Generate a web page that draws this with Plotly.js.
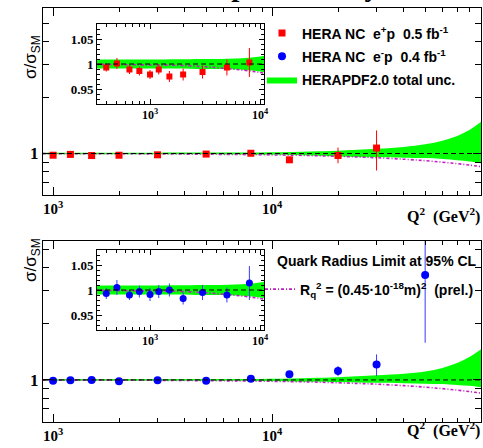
<!DOCTYPE html>
<html>
<head>
<meta charset="utf-8">
<script src="https://cdn.plot.ly/plotly-3.0.1.min.js"></script>
<style>html,body{margin:0;padding:0;background:#fff}#chart{width:483px;height:448px}</style>
</head>
<body>
<div id="chart"></div>
<script>
// ---- data ----
// e+p NC cross section ratio to SM
var q2Pos      = [400, 500, 650, 800, 1000, 1200, 1500, 2000, 3000, 5000, 8000, 12000, 20000, 30000];
var ratioPos   = [0.993, 1.001, 0.989, 0.986, 0.979, 0.989, 0.975, 0.979, 0.984, 0.993, 1.003, 0.925, 0.976, 1.07];
var errPosUp   = [0.008, 0.011, 0.009, 0.009, 0.009, 0.010, 0.011, 0.012, 0.013, 0.016, 0.029, 0.035, 0.10, 0.26];
var errPosDn   = [0.008, 0.011, 0.009, 0.009, 0.009, 0.010, 0.011, 0.012, 0.013, 0.016, 0.029, 0.035, 0.09, 0.26];
// e-p NC cross section ratio to SM
var q2Neg      = [400, 500, 650, 800, 1000, 1200, 1500, 2000, 3000, 5000, 8000, 12000, 20000, 30000, 50000];
var ratioNeg   = [0.993, 1.005, 0.990, 0.997, 0.991, 0.997, 1.000, 0.983, 0.995, 0.990, 1.014, 1.072, 1.117, 1.21, 3.64];
var errNegUp   = [0.011, 0.015, 0.010, 0.012, 0.013, 0.013, 0.013, 0.012, 0.015, 0.015, 0.034, 0.04, 0.07, 0.16, 3.0];
var errNegDn   = [0.011, 0.015, 0.010, 0.012, 0.013, 0.013, 0.013, 0.012, 0.015, 0.015, 0.034, 0.04, 0.07, 0.16, 2.06];
// HERAPDF2.0 total uncertainty band
var bandQ2     = [300, 1000, 3000, 6000, 10000, 15000, 20000, 30000, 40000, 50000, 60000, 70000, 80000, 90000];
var bandPosUp  = [1.009, 1.009, 1.010, 1.011, 1.015, 1.025, 1.035, 1.06, 1.085, 1.12, 1.17, 1.24, 1.34, 1.48];
var bandPosLo  = [0.991, 0.991, 0.990, 0.989, 0.985, 0.975, 0.965, 0.955, 0.950, 0.945, 0.935, 0.92, 0.905, 0.885];
var bandNegUp  = [1.009, 1.009, 1.010, 1.011, 1.015, 1.025, 1.035, 1.06, 1.08, 1.11, 1.16, 1.23, 1.33, 1.46];
var bandNegLo  = [0.991, 0.991, 0.990, 0.989, 0.985, 0.978, 0.972, 0.965, 0.960, 0.955, 0.950, 0.940, 0.930, 0.915];
// quark radius limit curve
var rqQ2       = [300, 1000, 2000, 5000, 10000, 15000, 20000, 25000, 30000, 40000, 50000, 60000, 70000, 80000, 90000];
var rqRatio    = [0.9995, 0.998, 0.997, 0.991, 0.983, 0.975, 0.966, 0.957, 0.949, 0.932, 0.915, 0.898, 0.882, 0.866, 0.85];
var smLevel    = 1;
// tick labels and texts
var mainXTicks = [1000, 10000];
var mainXText  = ['10<sup>3</sup>', '10<sup>4</sup>'];
var mainXMinor = [2000,3000,4000,5000,6000,7000,8000,9000,20000,30000,40000,50000,60000,70000,80000,90000];
var insetXMinor= [400,500,600,700,800,900,2000,3000,4000,5000,6000,7000,8000,9000];
var mainYTicks = [1];
var mainYText  = ['1'];
var mainYMinor = [0.6,0.7,0.8,0.9,2,3,4,5,6];
var namePos  = 'HERA NC\u00a0\u00a0e<sup>+</sup>p\u00a0\u00a00.5 fb<sup>-1</sup>';
var nameNeg  = 'HERA NC\u00a0\u00a0e<sup>-</sup>p\u00a0\u00a00.4 fb<sup>-1</sup>';
var nameBand = 'HERAPDF2.0 total unc.';
var nameRq   = 'R<sub>q</sub><sup>2</sup> = (0.45\u00b710<sup>-18</sup>m)<sup>2</sup>\u00a0\u00a0(prel.)';
var rqTitle  = 'Quark Radius Limit at 95% CL';
var yTitle   = '\u03c3/\u03c3<sub>SM</sub>';
var xTitle   = 'Q<sup>2</sup>\u00a0\u00a0(GeV<sup>2</sup>)';
var topTitle = 'H1 preliminary';

var GREEN = '#00ff00', RED = '#ff0000', BLUE = '#0000ff', MAG = '#c020c0';
var W = 483, H = 448;
function px(x){return x/W;}
function py(y){return 1 - y/H;}

var data = [];
function band(xa, ya, up, lo, show){
  data.push({x: bandQ2, y: lo, xaxis: xa, yaxis: ya, type: 'scatter', mode: 'lines',
    line: {width: 0, color: GREEN, shape: 'spline'}, showlegend: false, hoverinfo: 'skip'});
  data.push({x: bandQ2, y: up, xaxis: xa, yaxis: ya, type: 'scatter', mode: 'lines',
    line: {width: 0, color: GREEN, shape: 'spline'}, fill: 'tonexty', fillcolor: GREEN,
    name: nameBand, showlegend: show, legend: 'legend', legendgroup: 'g3', legendrank: 3});
}
band('x', 'y', bandPosUp, bandPosLo, true);
band('x2', 'y2', bandPosUp, bandPosLo, false);
band('x3', 'y3', bandNegUp, bandNegLo, false);
band('x4', 'y4', bandNegUp, bandNegLo, false);

function rq(xa, ya, show){
  data.push({x: rqQ2, y: rqRatio, xaxis: xa, yaxis: ya, type: 'scatter', mode: 'lines',
    line: {color: MAG, width: 1.6, dash: '3px,2px,1px,2px', shape: 'spline'},
    name: nameRq, showlegend: show, legend: 'legend2'});
}
rq('x', 'y', false);
rq('x2', 'y2', false);
rq('x3', 'y3', true);
rq('x4', 'y4', false);

function pts(xa, ya, q, r, eu, ed, sym, sz, col, ecol, nm, show, rank){
  data.push({x: q, y: r, xaxis: xa, yaxis: ya, type: 'scatter', mode: 'markers',
    marker: {symbol: sym, size: sz, color: col},
    error_y: {type: 'data', symmetric: false, array: eu, arrayminus: ed, color: ecol, thickness: 1, width: 0},
    name: nm, showlegend: show, legend: 'legend', legendgroup: 'g' + rank, legendrank: rank});
}
pts('x', 'y', q2Pos, ratioPos, errPosUp, errPosDn, 'square', 7, RED, RED, namePos, true, 1);
pts('x2', 'y2', q2Pos, ratioPos, errPosUp, errPosDn, 'square', 6, RED, RED, namePos, false, 1);
pts('x3', 'y3', q2Neg, ratioNeg, errNegUp, errNegDn, 'circle', 8, BLUE, '#3a3aff', nameNeg, true, 2);
pts('x4', 'y4', q2Neg, ratioNeg, errNegUp, errNegDn, 'circle', 7, BLUE, '#3a3aff', nameNeg, false, 2);

var serifB = {family: 'Liberation Serif', size: 15, color: '#000', weight: 'bold'};
var serifBs = {family: 'Liberation Serif', size: 12, color: '#000', weight: 'bold'};
var sansB = {family: 'Liberation Sans', size: 14, color: '#000', weight: 'bold'};

function mainX(dom, anchor){
  return {domain: dom, anchor: anchor, type: 'log', range: [2.954, 4.954],
    showline: true, linecolor: '#000', linewidth: 1, mirror: 'ticks',
    ticks: 'inside', ticklen: 8, tickwidth: 1, tickcolor: '#000',
    tickmode: 'array', tickvals: mainXTicks, ticktext: mainXText, tickfont: serifB,
    minor: {tickmode: 'array', tickvals: mainXMinor, ticks: 'inside', ticklen: 4, tickcolor: '#000'},
    showgrid: false, zeroline: false, fixedrange: true};
}
function mainY(dom, anchor, rng){
  return {domain: dom, anchor: anchor, type: 'log', range: rng,
    showline: true, linecolor: '#000', linewidth: 1, mirror: 'ticks',
    ticks: 'inside', ticklen: 8, tickwidth: 1, tickcolor: '#000',
    tickmode: 'array', tickvals: mainYTicks, ticktext: mainYText, tickfont: {family: 'Liberation Serif', size: 17, color: '#000', weight: 'bold'},
    minor: {tickmode: 'array', tickvals: mainYMinor, ticks: 'inside', ticklen: 6, tickcolor: '#000'},
    showgrid: false, zeroline: false, fixedrange: true};
}
function insetX(dom, anchor){
  return {domain: dom, anchor: anchor, type: 'log', range: [2.518, 4.036],
    showline: true, linecolor: '#000', linewidth: 1, mirror: 'ticks',
    ticks: 'inside', ticklen: 5, tickwidth: 1, tickcolor: '#000',
    tickmode: 'array', tickvals: mainXTicks, ticktext: mainXText, tickfont: serifBs,
    minor: {tickmode: 'array', tickvals: insetXMinor, ticks: 'inside', ticklen: 3, tickcolor: '#000'},
    showgrid: false, zeroline: false, fixedrange: true};
}
function insetY(dom, anchor){
  return {domain: dom, anchor: anchor, range: [0.92, 1.08],
    showline: true, linecolor: '#000', linewidth: 1, mirror: 'ticks',
    ticks: 'inside', ticklen: 5, tickwidth: 1, tickcolor: '#000',
    tickmode: 'linear', tick0: 0, dtick: 0.05, tickfont: {family: 'Liberation Serif', size: 13, color: '#000', weight: 'bold'},
    minor: {dtick: 0.01, ticks: 'inside', ticklen: 3, tickcolor: '#000'},
    showgrid: false, zeroline: false, fixedrange: true};
}

var xMain = [px(43), px(481)];
var xIn = [px(97), px(264)];

var shapes = [];
[['x','y'],['x2','y2'],['x3','y3'],['x4','y4']].forEach(function(p){
  shapes.push({type: 'line', xref: p[0] + ' domain', yref: p[1], x0: 0, x1: 1, y0: smLevel, y1: smLevel,
    line: {color: '#000', width: 1, dash: '5px,3px'}, layer: 'above'});
});

var layout = {
  width: W, height: H, margin: {l: 0, r: 0, t: 0, b: 0, autoexpand: false},
  paper_bgcolor: '#fff', plot_bgcolor: '#fff', showlegend: true,
  xaxis: mainX(xMain, 'y'),
  yaxis: mainY([py(195), py(8)], 'x', [-0.223, 0.782]),
  xaxis2: insetX(xIn, 'y2'),
  yaxis2: insetY([py(104), py(24)], 'x2'),
  xaxis3: mainX(xMain, 'y3'),
  yaxis3: mainY([py(422), py(241)], 'x3', [-0.225, 0.743]),
  xaxis4: insetX(xIn, 'y4'),
  yaxis4: insetY([py(330), py(250)], 'x4'),
  legend: {x: px(262), y: py(17.5), xanchor: 'left', yanchor: 'top', bgcolor: 'rgba(0,0,0,0)',
    font: sansB, traceorder: 'grouped', tracegroupgap: 2, itemclick: false, itemdoubleclick: false},
  legend2: {x: px(260), y: py(273.5), xanchor: 'left', yanchor: 'top', bgcolor: 'rgba(0,0,0,0)',
    font: sansB, itemclick: false, itemdoubleclick: false},
  shapes: shapes,
  annotations: [
    {text: yTitle, xref: 'paper', yref: 'paper', x: px(19), y: py(33), textangle: -90, showarrow: false,
      font: {family: 'Liberation Sans', size: 17, color: '#000'}},
    {text: yTitle, xref: 'paper', yref: 'paper', x: px(19), y: py(260), textangle: -90, showarrow: false,
      font: {family: 'Liberation Sans', size: 17, color: '#000'}},
    {text: xTitle, xref: 'paper', yref: 'paper', x: px(482), y: py(215), xanchor: 'right', showarrow: false,
      font: {family: 'Liberation Serif', size: 16, color: '#000', weight: 'bold'}},
    {text: xTitle, xref: 'paper', yref: 'paper', x: px(482), y: py(442), xanchor: 'right', showarrow: false,
      font: {family: 'Liberation Serif', size: 16, color: '#000', weight: 'bold'}},
    {text: rqTitle, xref: 'paper', yref: 'paper', x: px(275), y: py(261), xanchor: 'left', showarrow: false,
      font: sansB},
    {text: topTitle, xref: 'paper', yref: 'paper', x: px(283), y: py(4), xanchor: 'center', yanchor: 'bottom', showarrow: false,
      font: {family: 'Liberation Serif', size: 29, color: '#000', weight: 'bold'}}
  ]
};

Plotly.newPlot('chart', data, layout, {displayModeBar: false, staticPlot: true});
</script>
</body>
</html>
